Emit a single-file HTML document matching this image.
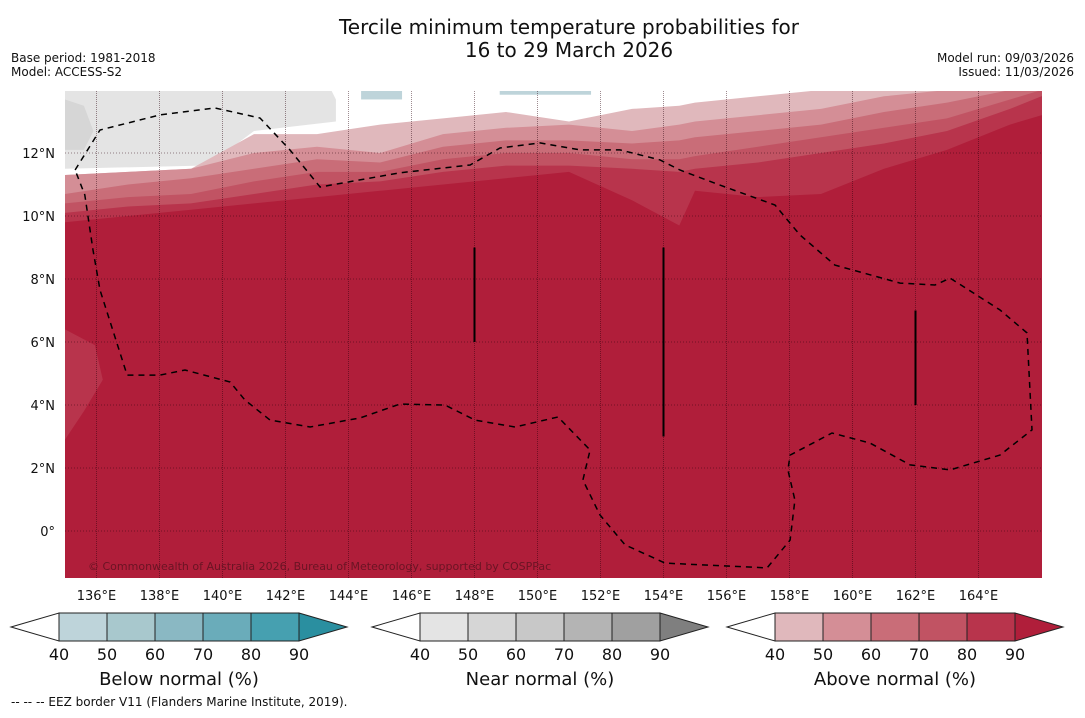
<!DOCTYPE html>
<html><head><meta charset="utf-8"><style>
body{margin:0;background:#fff;font-family:"Liberation Sans","DejaVu Sans",sans-serif;}
svg text{font-family:"DejaVu Sans","Liberation Sans",sans-serif;}
</style></head><body>
<svg id="chart" width="1085" height="713" viewBox="0 0 1085 713" xmlns="http://www.w3.org/2000/svg">
<rect width="1085" height="713" fill="#fff"/>
<text x="569" y="34" font-size="20" text-anchor="middle" fill="#111">Tercile minimum temperature probabilities for</text>
<text x="569" y="57" font-size="20" text-anchor="middle" fill="#111">16 to 29 March 2026</text>
<text x="11" y="62" font-size="12" fill="#111">Base period: 1981-2018</text>
<text x="11" y="76" font-size="12" fill="#111">Model: ACCESS-S2</text>
<text x="1074" y="62" font-size="12" text-anchor="end" fill="#111">Model run: 09/03/2026</text>
<text x="1074" y="76" font-size="12" text-anchor="end" fill="#111">Issued: 11/03/2026</text>
<defs><clipPath id="mapclip"><rect x="65" y="91" width="977" height="487"/></clipPath></defs>
<g id="map" clip-path="url(#mapclip)"></g>
<g id="axes"></g>
<g id="bars"></g>
<text x="11" y="706" font-size="12" fill="#111">--  --  -- EEZ border V11 (Flanders Marine Institute, 2019).</text>
</svg>
<script>
const lons=[135,137,139,141,143,145,147,149,151,153,154.5,155,157,159,161,163,165,166];
const p40=[11.3,11.4,11.5,12.6,12.6,12.9,13.1,13.3,13.0,13.4,13.5,13.6,13.8,14,14,14,14,14];
const p50=[11.3,11.4,11.5,12.0,12.2,12.0,12.6,12.8,12.9,12.7,12.9,13.0,13.2,13.4,13.8,14,14,14];
const p60=[10.7,11.0,11.2,11.5,11.8,11.7,12.2,12.4,12.4,12.3,12.4,12.5,12.7,12.9,13.3,13.6,14,14];
const p70=[10.4,10.6,10.7,11.1,11.4,11.4,11.8,12.0,12.0,11.8,11.8,11.9,12.2,12.5,12.8,13.1,13.7,14];
const p80=[10.1,10.3,10.4,10.7,11.0,11.1,11.4,11.6,11.6,11.5,11.4,11.5,11.7,12.0,12.3,12.7,13.4,13.8];
const p90=[9.8,10.0,10.2,10.4,10.6,10.8,11.0,11.2,11.4,10.5,9.7,10.8,10.6,10.7,11.5,12.1,12.9,13.2];
const aboveLevels=[40,50,60,70,80,90];
const aboveColors=["#e0b8bc","#d48e96","#c96d78","#c15363","#b8344c","#b01e3a"];
const belowColors=["#bed4da","#a8c8cd","#8ab8c3","#6aacba","#46a0b0","#2a8fa0"];
const nearColors=["#e4e4e4","#d6d6d6","#c8c8c8","#b4b4b4","#a0a0a0","#7f7f7f"];
const nnLon=[135,143.4,143.6,143.6,141.0,140.2,139.3,135];
const nnLat=[14.1,14.1,13.7,13.0,12.7,12.1,11.6,11.5];
const nn2Lon=[135,135.6,135.9,135.6,135];
const nn2Lat=[13.7,13.5,12.7,12.1,12.1];
const bulgeLon=[135,135.95,136.2,135.6,135];
const bulgeLat=[6.4,5.9,4.8,3.8,2.9];
const eezLon=[135.32,136.11,138.02,139.76,141.19,142.14,143.10,145.63,147.86,148.81,150.08,151.35,152.62,153.89,154.52,155.79,157.54,158.33,159.44,161.51,162.62,163.10,164.68,165.54,165.70,164.68,163.10,161.83,160.56,159.35,158.02,157.95,158.17,158.02,157.29,154.05,152.78,151.98,151.44,151.67,150.65,149.29,148.02,147.06,145.63,144.37,142.78,141.51,140.71,140.24,138.81,138.02,136.97,136.11,135.89,135.63,135.32];
const eezLat=[11.46,12.73,13.21,13.43,13.11,12.10,10.92,11.37,11.62,12.16,12.32,12.10,12.10,11.78,11.46,10.98,10.35,9.40,8.44,7.87,7.81,8.03,7.02,6.29,3.21,2.41,1.94,2.10,2.79,3.11,2.41,1.94,0.98,-0.29,-1.17,-1.02,-0.44,0.51,1.62,2.57,3.62,3.30,3.52,4.00,4.03,3.59,3.30,3.52,4.16,4.73,5.11,4.95,4.95,7.65,8.92,10.67,11.46];
const lonTicks=[136,138,140,142,144,146,148,150,152,154,156,158,160,162,164];
const latTicks=[12,10,8,6,4,2,0];
const cbTicks=[40,50,60,70,80,90];
const NS="http://www.w3.org/2000/svg";
const X=lon=>65+(lon-135)*31.5;
const Y=lat=>153+(12-lat)*31.5;
function mk(tag,attrs,parent){const e=document.createElementNS(NS,tag);for(const k in attrs)e.setAttribute(k,attrs[k]);parent.appendChild(e);return e;}
const map=document.getElementById('map');
const r=mk('rect',{x:65,y:91,width:977,height:487,fill:'#fff'},map);


function poly(lo,la){return lo.map((v,i)=>X(v).toFixed(1)+','+Y(la[i]).toFixed(1)).join(' ');}
let g=mk('polygon',{points:poly(nnLon,nnLat),fill:nearColors[0]},map);


g=mk('polygon',{points:poly(nn2Lon,nn2Lat),fill:nearColors[1]},map);


[[144.4,145.7,13.7],[148.8,151.7,13.85]].forEach(b=>{const e=mk('rect',{x:X(b[0]),y:91,width:X(b[1])-X(b[0]),height:Y(b[2])-91,fill:belowColors[0]},map);

});
const bounds=[p40,p50,p60,p70,p80,p90];
bounds.forEach((b,k)=>{
 let pts=lons.map((l,i)=>X(l).toFixed(1)+','+Y(b[i]).toFixed(1));
 pts.push(X(167)+','+Y(b[b.length-1]),X(167)+','+Y(-3),X(134)+','+Y(-3),X(134)+','+Y(b[0]));
 const e=mk('polygon',{points:pts.join(' '),fill:aboveColors[k]},map);
 
 
});
g=mk('polygon',{points:poly(bulgeLon,bulgeLat),fill:aboveColors[4]},map);


lonTicks.forEach(l=>{const e=mk('line',{x1:X(l),x2:X(l),y1:91,y2:578,stroke:'rgba(40,0,10,0.45)','stroke-width':1,'stroke-dasharray':'1,1'},map);

});
latTicks.forEach(l=>{const e=mk('line',{x1:65,x2:1042,y1:Y(l),y2:Y(l),stroke:'rgba(40,0,10,0.45)','stroke-width':1,'stroke-dasharray':'1,2'},map);

});
[[148,9,6],[154,9,3],[162,7,4]].forEach(v=>{const e=mk('line',{x1:X(v[0]),x2:X(v[0]),y1:Y(v[1]),y2:Y(v[2]),stroke:'#000','stroke-width':2},map);

});
g=mk('polyline',{points:poly(eezLon,eezLat),fill:'none',stroke:'#000','stroke-width':1.5,'stroke-dasharray':'6,5'},map);


g=mk('text',{x:88,y:570,'font-size':11,fill:'#6a1424'},map);
g.textContent='© Commonwealth of Australia 2026, Bureau of Meteorology, supported by COSPPac';


const axes=document.getElementById('axes');
lonTicks.forEach(l=>{const t=mk('text',{x:X(l),y:600,'font-size':13,'text-anchor':'middle',fill:'#111'},axes);t.textContent=l+'°E';

});
latTicks.forEach(l=>{const t=mk('text',{x:55,y:Y(l)+5,'font-size':13,'text-anchor':'end',fill:'#111'},axes);t.textContent=l===0?'0°':l+'°N';

});
const bars=document.getElementById('bars');
[[11,belowColors,'Below normal (%)','below'],[372,nearColors,'Near normal (%)','near'],[727,aboveColors,'Above normal (%)','above']].forEach(cb=>{
 const x0=cb[0],bx=x0+48,w=48,y0=613,h=28;
 let e=mk('polygon',{points:`${x0},${y0+h/2} ${bx},${y0} ${bx},${y0+h}`,fill:'#fff',stroke:'#222','stroke-width':1},bars);
 
 
 cb[1].slice(0,5).forEach((c,i)=>{const s=mk('rect',{x:bx+i*w,y:y0,width:w,height:h,fill:c,stroke:'#222','stroke-width':1},bars);
 
 });
 e=mk('polygon',{points:`${bx+5*w},${y0} ${bx+5*w+48},${y0+h/2} ${bx+5*w},${y0+h}`,fill:cb[1][5],stroke:'#222','stroke-width':1},bars);
 
 
 cbTicks.forEach((v,i)=>{const t=mk('text',{x:bx+i*w,y:660,'font-size':16,'text-anchor':'middle',fill:'#111'},bars);t.textContent=v;
 
 });
 const t=mk('text',{x:bx+2.5*w,y:685,'font-size':18,'text-anchor':'middle',fill:'#111'},bars);t.textContent=cb[2];
 
 
});
</script>
</body></html>
